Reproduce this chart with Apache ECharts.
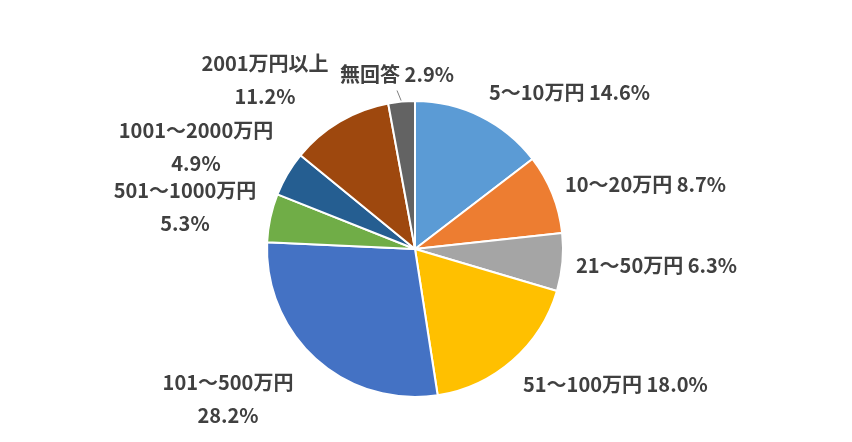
<!DOCTYPE html>
<html><head><meta charset="utf-8">
<script src="https://cdn.jsdelivr.net/npm/echarts@6/dist/echarts.min.js"></script>
<style>html,body{margin:0;padding:0;background:#fff}#c{width:852px;height:442px}</style>
</head><body><div id="c"></div>
<script>
const categories = ['5～10万円','10～20万円','21～50万円','51～100万円','101～500万円','501～1000万円','1001～2000万円','2001万円以上','無回答'];
const shares = [14.6, 8.7, 6.3, 18.0, 28.2, 5.3, 4.9, 11.2, 2.9];
const colors = ['#5B9BD5','#ED7D31','#A5A5A5','#FFC000','#4472C4','#70AD47','#255E91','#9E480E','#636363'];
const twoLine = [false,false,false,false,true,true,true,true,false];
// label anchor positions (px) and alignment
const labelPos = [
  {x:489,y:92,align:'left'},
  {x:565,y:184,align:'left'},
  {x:576,y:265,align:'left'},
  {x:523,y:384,align:'left'},
  {x:228,y:399,align:'center'},
  {x:185,y:207,align:'center'},
  {x:196,y:147,align:'center'},
  {x:265,y:80,align:'center'},
  {x:397,y:74,align:'center'}
];
const chart = echarts.init(document.getElementById('c'), null, {renderer:'canvas'});
chart.setOption({
  animation:false,
  series:[{
    type:'pie',
    center:[415,249],
    radius:[0,148],
    startAngle:90,
    clockwise:true,
    data: categories.map((n,i)=>({
      name:n, value:shares[i],
      itemStyle:{color:colors[i]},
      labelLine:{show:i===8, length:6, length2:0, lineStyle:{color:'#7f7f7f',width:1}}
    })),
    itemStyle:{borderColor:'#fff',borderWidth:2},
    label:{
      show:true,
      position:'outside',
      color:'#404040',
      fontFamily:'"Noto Sans CJK JP", sans-serif',
      fontWeight:'bold',
      fontSize:20,
      lineHeight:33,
      formatter:(p)=> p.name + (twoLine[p.dataIndex] ? '\n' : ' ') + p.value.toFixed(1) + '%'
    },
    labelLayout:(p)=>{
      const L = labelPos[p.dataIndex];
      return {x:L.x, y:L.y, align:L.align, verticalAlign:'middle'};
    }
  }]
});
</script></body></html>
